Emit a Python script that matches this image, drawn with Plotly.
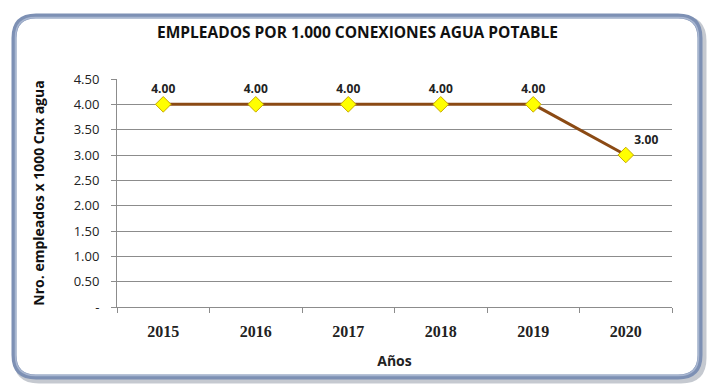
import plotly.graph_objects as go

years = ["2015", "2016", "2017", "2018", "2019", "2020"]
values = [4.00, 4.00, 4.00, 4.00, 4.00, 3.00]
label_pos = ["top center", "top center", "top center", "top center", "top center", "top right"]
y_tickvals = [0, 0.5, 1.0, 1.5, 2.0, 2.5, 3.0, 3.5, 4.0, 4.5]
y_ticktext = ["-", "0.50", "1.00", "1.50", "2.00", "2.50", "3.00", "3.50", "4.00", "4.50"]

W, H = 715, 392
L, R, T, B = 117, 43, 79, 85

def rounded(x0, y0, x1, y1, r):
    return (f"M {x0+r},{y0} L {x1-r},{y0} Q {x1},{y0} {x1},{y0+r} "
            f"L {x1},{y1-r} Q {x1},{y1} {x1-r},{y1} L {x0+r},{y1} "
            f"Q {x0},{y1} {x0},{y1-r} L {x0},{y0+r} Q {x0},{y0} {x0+r},{y0} Z")

fx0, fx1 = 14 - L, 700 - L
fy_top, fy_bot = (H - B) - 16, (H - B) - 377

fig = go.Figure()
fig.add_trace(go.Scatter(
    x=years, y=values, mode="lines+markers+text",
    text=[f"{v:.2f}" for v in values], textposition=label_pos,
    textfont=dict(family="Open Sans", size=12, color="#222222", weight="bold"),
    line=dict(color="#8B4A14", width=3),
    marker=dict(symbol="diamond", size=12, color="#FFFF00",
                line=dict(color="#C8A800", width=1)),
    cliponaxis=False, showlegend=False, hoverinfo="skip",
))

common = dict(type="path", xref="paper", yref="paper", xsizemode="pixel", ysizemode="pixel",
              xanchor=0, yanchor=0, layer="below")
shapes = [
    dict(common, path=rounded(fx0 + 3, fy_bot - 3, fx1 + 3, fy_top - 3, 22),
         line=dict(color="rgba(90,100,120,0.35)", width=7), fillcolor="rgba(0,0,0,0)"),
    dict(common, path=rounded(fx0, fy_bot, fx1, fy_top, 22),
         line=dict(color="#7d90b4", width=5), fillcolor="white"),
    dict(common, path=rounded(fx0 + 1.5, fy_bot + 1.5, fx1 - 1.5, fy_top - 1.5, 20),
         line=dict(color="#a8b6d0", width=1.5), fillcolor="rgba(0,0,0,0)"),
]

fig.update_layout(
    width=W, height=H, margin=dict(l=L, r=R, t=T, b=B),
    paper_bgcolor="white", plot_bgcolor="rgba(0,0,0,0)",
    shapes=shapes,
    title=dict(text="<b>EMPLEADOS POR 1.000 CONEXIONES AGUA POTABLE</b>",
               x=0.5, xref="container", xanchor="center", y=1 - 33 / H, yanchor="middle",
               font=dict(family="Open Sans", size=15.5, color="#111111")),
    xaxis=dict(
        type="category", range=[-0.5, 5.5], showgrid=False,
        showline=True, linecolor="#8c8c8c", linewidth=1,
        ticks="outside", ticklen=5, tickcolor="#8c8c8c", tickson="boundaries",
        ticklabelstandoff=10,
        tickfont=dict(family="Liberation Serif", size=16, color="#222222", weight="bold"),
        title=dict(text="<b>Años</b>", font=dict(family="Open Sans", size=14, color="#222222"), standoff=16),
    ),
    yaxis=dict(
        range=[0, 4.5], tickvals=y_tickvals, ticktext=y_ticktext,
        showgrid=True, gridcolor="#8c8c8c", gridwidth=1, zeroline=False,
        showline=True, linecolor="#8c8c8c", linewidth=1,
        ticks="outside", ticklen=5, tickcolor="#8c8c8c",
        ticklabelstandoff=9,
        tickfont=dict(family="Open Sans", size=13, color="#222222"),
        title=dict(text="<b>Nro. empleados x 1000 Cnx agua</b>",
                   font=dict(family="Open Sans", size=14, color="#111111"), standoff=25),
    ),
)

fig.write_html("out.html", config={"displayModeBar": False},
               post_script="document.body.style.margin='0';")
